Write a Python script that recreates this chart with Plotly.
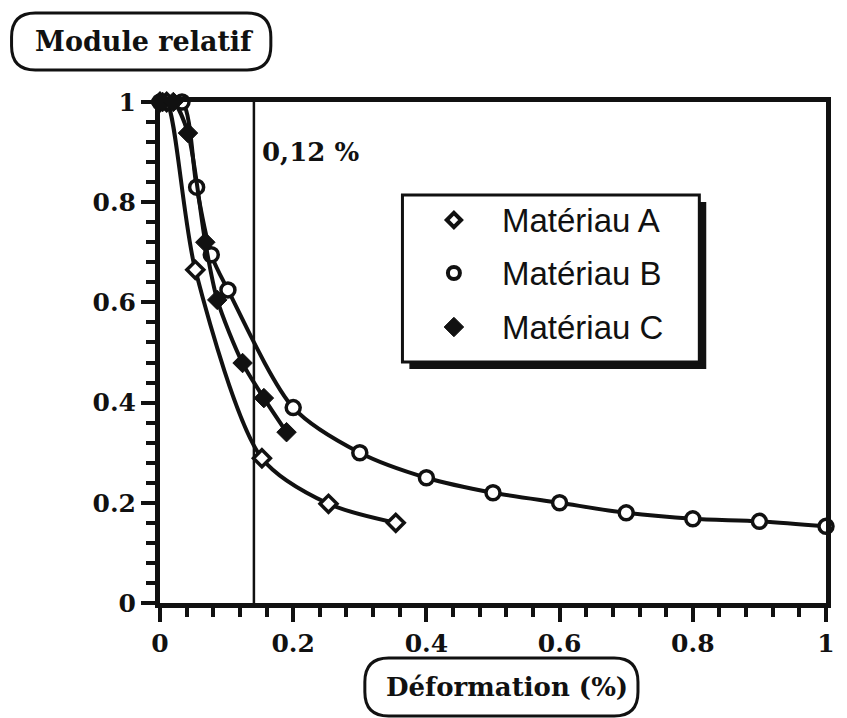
import plotly.graph_objects as go

# ---- data ----
a_x = [0.0, 0.01, 0.053, 0.153, 0.253, 0.354]
a_y = [1.0, 1.0, 0.665, 0.289, 0.198, 0.160]

b_x = [0.0, 0.033, 0.055, 0.077, 0.102, 0.20, 0.30, 0.40, 0.50, 0.60, 0.70, 0.80, 0.90, 1.0]
b_y = [1.0, 1.0, 0.830, 0.695, 0.625, 0.390, 0.300, 0.250, 0.220, 0.200, 0.180, 0.168, 0.163, 0.153]

c_x = [0.004, 0.02, 0.042, 0.068, 0.086, 0.124, 0.156, 0.190]
c_y = [1.0, 1.0, 0.938, 0.720, 0.605, 0.479, 0.409, 0.341]

series_names = ["Matériau A", "Matériau B", "Matériau C"]
threshold_x = 0.141
threshold_label = "0,12 %"
x_ticks = [0, 0.2, 0.4, 0.6, 0.8, 1]
x_tick_text = ["0", "0.2", "0.4", "0.6", "0.8", "1"]
y_ticks = [0, 0.2, 0.4, 0.6, 0.8, 1]
y_tick_text = ["0", "0.2", "0.4", "0.6", "0.8", "1"]
x_title = "Déformation (%)"
y_title = "Module relatif"

# ---- layout geometry ----
W, H = 847, 718
L, R, T, B = 160, 14, 102, 115
PW, PH = W - L - R, H - T - B

def fx(px):
    return (px - L) / PW

def fy(py):
    return (H - B - py) / PH

def rounded_path(x0, y0, x1, y1, r):
    # pixel coords -> paper path with rounded corners
    X0, X1 = fx(x0), fx(x1)
    Y0, Y1 = fy(y0), fy(y1)  # Y0 top, Y1 bottom
    rx, ry = r / PW, r / PH
    return (f"M {X0+rx},{Y0} L {X1-rx},{Y0} Q {X1},{Y0} {X1},{Y0-ry} "
            f"L {X1},{Y1+ry} Q {X1},{Y1} {X1-rx},{Y1} "
            f"L {X0+rx},{Y1} Q {X0},{Y1} {X0},{Y1+ry} "
            f"L {X0},{Y0-ry} Q {X0},{Y0} {X0+rx},{Y0} Z")

INK = "#111111"
SERIF = "DejaVu Serif"
SANS = "Liberation Sans"

fig = go.Figure()

marker_styles = [
    dict(symbol="diamond", size=13, color="white", line=dict(color=INK, width=3.5)),
    dict(symbol="circle", size=14, color="white", line=dict(color=INK, width=3.5)),
    dict(symbol="diamond", size=15, color=INK, line=dict(color=INK, width=1)),
]

for xs, ys, ms, name in zip([a_x, b_x, c_x], [a_y, b_y, c_y], marker_styles, series_names):
    fig.add_trace(go.Scatter(
        x=xs, y=ys, mode="lines+markers", name=name,
        line=dict(color=INK, width=4, shape="spline", smoothing=0.8),
        marker=ms, cliponaxis=False, showlegend=False,
    ))

# ---- manual legend (box with shadow) ----
lg_x0, lg_y0, lg_x1, lg_y1 = 405, 195, 705, 362
shadow = 7
shapes = [
    dict(type="rect", xref="paper", yref="paper",
         x0=fx(lg_x0 + shadow), x1=fx(lg_x1 + shadow), y0=fy(lg_y1 + shadow), y1=fy(lg_y0 + shadow),
         fillcolor=INK, line=dict(color=INK, width=0), layer="below"),
    dict(type="rect", xref="paper", yref="paper",
         x0=fx(lg_x0), x1=fx(lg_x1), y0=fy(lg_y1), y1=fy(lg_y0),
         fillcolor="white", line=dict(color=INK, width=3), layer="below"),
    # threshold vertical line
    dict(type="line", xref="x", yref="y", x0=threshold_x, x1=threshold_x, y0=0, y1=1,
         line=dict(color=INK, width=2.5), layer="below"),
    # rounded title boxes
    dict(type="path", xref="paper", yref="paper", path=rounded_path(10, 13, 272, 70, 24),
         line=dict(color=INK, width=3)),
    dict(type="path", xref="paper", yref="paper", path=rounded_path(367, 658, 643, 716, 24),
         line=dict(color=INK, width=3)),
]

legend_rows_px = [220, 273, 327]
legend_marker_px = 457
legend_text_px = 504
legend_markers = [
    dict(symbol="diamond", size=11, color="white", line=dict(color=INK, width=4)),
    dict(symbol="circle", size=12, color="white", line=dict(color=INK, width=4)),
    dict(symbol="diamond", size=15, color=INK, line=dict(color=INK, width=1)),
]
annotations = []
for row, ms, name in zip(legend_rows_px, legend_markers, series_names):
    fig.add_trace(go.Scatter(
        x=[fx(legend_marker_px)], y=[fy(row)], mode="markers", marker=ms,
        showlegend=False, hoverinfo="skip", cliponaxis=False,
    ))
    annotations.append(dict(
        xref="paper", yref="paper", x=fx(legend_text_px), y=fy(row),
        xanchor="left", yanchor="middle", text=name, showarrow=False,
        font=dict(family=SANS, size=33, color=INK),
    ))

annotations += [
    dict(xref="paper", yref="paper", x=fx(144), y=fy(42), text=f"<b>{y_title}</b>",
         showarrow=False, xanchor="center", yanchor="middle",
         font=dict(family=SERIF, size=27, color=INK)),
    dict(xref="paper", yref="paper", x=fx(511), y=fy(687), text=f"<b>{x_title}</b>",
         showarrow=False, xanchor="center", yanchor="middle",
         font=dict(family=SERIF, size=26, color=INK)),
    dict(xref="paper", yref="paper", x=fx(261), y=fy(152), text=f"<b>{threshold_label}</b>",
         showarrow=False, xanchor="left", yanchor="middle",
         font=dict(family=SERIF, size=26, color=INK)),
]

axis_common = dict(
    showgrid=False, zeroline=False, showline=True, linecolor=INK, linewidth=5,
    mirror=True, ticks="outside", ticklen=14, tickwidth=4, tickcolor=INK,
    tickfont=dict(family=SERIF, size=25, color=INK, weight="bold"),
    range=[0, 1],
    minor=dict(dtick=0.04, ticks="outside", ticklen=9, tickwidth=4, tickcolor=INK, showgrid=False),
)

fig.update_layout(
    width=W, height=H,
    margin=dict(l=L, r=R, t=T, b=B),
    paper_bgcolor="white", plot_bgcolor="rgba(0,0,0,0)",
    xaxis=dict(axis_common, tickvals=x_ticks, ticktext=x_tick_text),
    yaxis=dict(axis_common, tickvals=y_ticks, ticktext=y_tick_text),
    shapes=shapes, annotations=annotations, showlegend=False,
)

fig.write_html("out.html", config={"displayModeBar": False},
               post_script="document.body.style.margin='0';document.body.style.overflow='hidden';")
